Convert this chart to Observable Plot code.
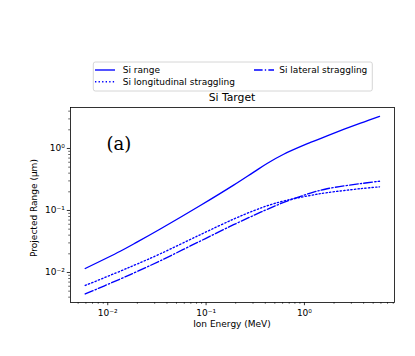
<!DOCTYPE html>
<html>
<head>
<meta charset="utf-8">
<script src="https://cdn.jsdelivr.net/npm/d3@7"></script>
<script src="https://cdn.jsdelivr.net/npm/@observablehq/plot@0.6"></script>
<style>
  html, body { margin: 0; padding: 0; background: white; }
  #chart { width: 415px; height: 356px; }
</style>
</head>
<body>
<div id="chart"></div>
<script>
// Ion energy (MeV)
const energy = [0.0059, 0.0134, 0.0198, 0.0342, 0.0873, 0.1905, 0.305, 0.417, 0.615, 1.151, 1.70, 3.72, 5.80];
// Projected range and straggling (µm)
const siRange = [0.0116, 0.0220, 0.0308, 0.0502, 0.1202, 0.2564, 0.416, 0.573, 0.807, 1.25, 1.603, 2.564, 3.30];
const siLongitudinal = [0.00617, 0.0105, 0.01365, 0.0200, 0.0407, 0.0726, 0.0991, 0.1189, 0.1422, 0.175, 0.1936, 0.2249, 0.2404];
const siLateral = [0.00450, 0.00785, 0.01033, 0.01545, 0.0321, 0.0589, 0.0834, 0.1042, 0.135, 0.1906, 0.2244, 0.271, 0.2965];

const seriesNames = ["Si range", "Si longitudinal straggling", "Si lateral straggling"];
const xMajorTicks = [0.01, 0.1, 1];
const yMajorTicks = [0.01, 0.1, 1];
const xTickLabels = ["10\u207B\u00B2", "10\u207B\u00B9", "10\u2070"];
const yTickLabels = ["10\u207B\u00B2", "10\u207B\u00B9", "10\u2070"];

const title = "Si Target";
const xLabel = "Ion Energy (MeV)";
const yLabel = "Projected Range (\u03BCm)";
const panelTag = "(a)";

const xDomain = [0.00418, 8.24];
const yDomain = [0.00328, 4.58];

function minorTicks(domain) {
  const out = [];
  for (let e = -4; e <= 1; e++) {
    for (let m = 2; m <= 9; m++) {
      const v = m * Math.pow(10, e);
      if (v >= domain[0] && v <= domain[1]) out.push(v);
    }
  }
  return out;
}

const allSeries = [siRange, siLongitudinal, siLateral];
const rows = [];
allSeries.forEach((vals, si) => {
  vals.forEach((v, i) => rows.push({series: seriesNames[si], E: energy[i], v}));
});

const blue = "#0000ff";
const lw = 1.35;
const dashes = [null, "1.35,2.2", "8.6,2.2,1.35,2.2"];

const fmtX = d => xTickLabels[xMajorTicks.indexOf(d)];
const fmtY = d => yTickLabels[yMajorTicks.indexOf(d)];

const chart = Plot.plot({
  width: 415,
  height: 356,
  marginLeft: 70,
  marginRight: 21,
  marginTop: 107,
  marginBottom: 54,
  style: {fontFamily: "DejaVu Sans", fontSize: "9px", background: "white", color: "black"},
  x: {type: "log", domain: xDomain},
  y: {type: "log", domain: yDomain},
  marks: [
    Plot.axisX({ticks: xMajorTicks, tickSize: 3.2, tickPadding: 4, tickFormat: fmtX, label: null, stroke: "black", strokeWidth: 0.8, fill: "black", fontSize: 9}),
    Plot.axisX({ticks: minorTicks(xDomain), tickSize: 1.8, tickFormat: () => "", label: null, stroke: "black", strokeWidth: 0.6}),
    Plot.axisY({ticks: yMajorTicks, tickSize: 3.2, tickPadding: 2.5, tickFormat: fmtY, label: null, stroke: "black", strokeWidth: 0.8, fill: "black", fontSize: 9}),
    Plot.axisY({ticks: minorTicks(yDomain), tickSize: 1.8, tickFormat: () => "", label: null, stroke: "black", strokeWidth: 0.6}),
    ...seriesNames.map((name, i) => Plot.line(rows.filter(r => r.series === name), {
      x: "E", y: "v", stroke: blue, strokeWidth: lw,
      strokeDasharray: dashes[i], curve: "catmull-rom"
    })),
    Plot.frame({stroke: "black", strokeWidth: 0.8})
  ]
});

document.getElementById("chart").appendChild(chart);

const svg = d3.select(chart);
function addText(x, y, str, opts = {}) {
  return svg.append("text").attr("x", x).attr("y", y)
    .attr("text-anchor", opts.anchor || "start")
    .attr("font-family", opts.family || "DejaVu Sans")
    .attr("font-size", opts.size || 9)
    .attr("fill", "black").text(str);
}
// Title
addText(232, 100.5, title, {anchor: "middle", size: 10.8});
// X label
addText(232, 327, xLabel, {anchor: "middle"});
// Y label
svg.append("text").attr("transform", "translate(36.5,208) rotate(-90)").attr("text-anchor", "middle")
  .attr("font-family", "DejaVu Sans").attr("font-size", 9).attr("fill", "black").text(yLabel);
// Panel tag
addText(106.5, 149.5, panelTag, {family: "DejaVu Serif", size: 18});

// Legend
const lg = svg.append("g");
lg.append("rect").attr("x", 93.3).attr("y", 62).attr("width", 279).attr("height", 29)
  .attr("rx", 2).attr("fill", "white").attr("fill-opacity", 0.8).attr("stroke", "#cccccc").attr("stroke-width", 0.8);
const legendPos = [
  {x0: 95, x1: 115, tx: 122.7, y: 70},
  {x0: 95, x1: 115, tx: 122.7, y: 81.7},
  {x0: 254, x1: 274, tx: 279.3, y: 70}
];
seriesNames.forEach((name, i) => {
  const p = legendPos[i];
  lg.append("line").attr("x1", p.x0).attr("x2", p.x1).attr("y1", p.y).attr("y2", p.y)
    .attr("stroke", blue).attr("stroke-width", lw).attr("stroke-dasharray", dashes[i]);
  lg.append("text").attr("x", p.tx).attr("y", p.y).attr("dy", "0.35em").attr("text-anchor", "start")
    .attr("font-family", "DejaVu Sans").attr("font-size", 9).attr("fill", "black").text(name);
});
</script>
</body>
</html>
